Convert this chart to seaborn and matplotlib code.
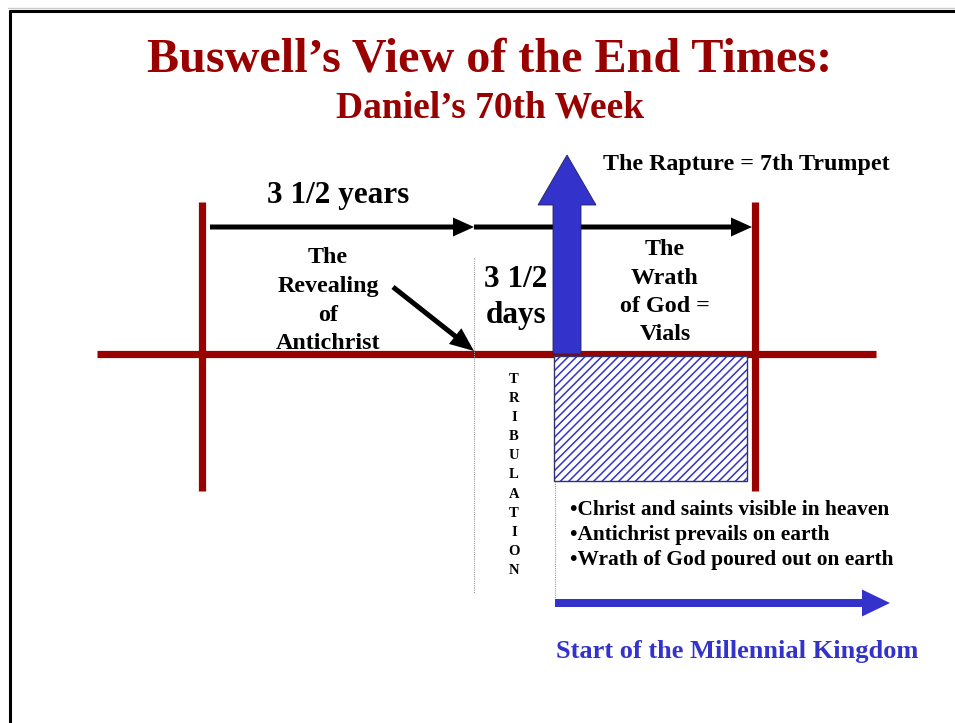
import numpy as np
import pandas as pd
import matplotlib
matplotlib.use('Agg')
import matplotlib.pyplot as plt
import seaborn as sns
from matplotlib.patches import FancyArrow, Rectangle
from matplotlib import font_manager as fm

# diagram content (pixel coordinates of the slide)
title = "Buswell\u2019s View of the End Times:"
subtitle = "Daniel\u2019s 70th Week"
timeline_y = 354
week_start, week_mid, rapture_x, week_end = 202, 474, 554, 755
half_label = "3 1/2 years"
days_label = ["3 1/2", "days"]
reveal_label = ["The", "Revealing", "of", "Antichrist"]
wrath_label = ["The", "Wrath", "of God =", "Vials"]
rapture_label = "The Rapture = 7th Trumpet"
bullets = ["\u2022Christ and saints visible in heaven",
           "\u2022Antichrist prevails on earth",
           "\u2022Wrath of God poured out on earth"]
tribulation = list("TRIBULATION")
kingdom_label = "Start of the Millennial Kingdom"

RED = "#990000"
BLUE = "#3333CC"

sns.set_theme(style="white")
plt.rcParams['font.family'] = 'Liberation Serif'
plt.rcParams['hatch.linewidth'] = 1.1

bold_path = fm.findfont(fm.FontProperties(family='Liberation Serif', weight='bold'))


def bf(size):
    return fm.FontProperties(fname=bold_path, size=size)


fig = plt.figure(figsize=(9.55, 7.23), dpi=100)
ax = fig.add_axes([0, 0, 1, 1])

# red timeline
segs = pd.DataFrame({
    "x": [97, 876, week_start, week_start, week_end, week_end],
    "y": [timeline_y, timeline_y, 202, 491, 202, 491],
    "seg": [0, 0, 1, 1, 2, 2],
})
sns.lineplot(data=segs, x="x", y="y", units="seg", estimator=None, sort=False,
             color=RED, lw=5.2, solid_capstyle='butt', ax=ax, legend=False)
ax.set_xlim(0, 955)
ax.set_ylim(723, 0)
ax.axis('off')

# slide frame
ax.plot([8, 955], [8, 8], color="#cccccc", lw=1)
ax.plot([9, 955], [10.5, 10.5], color="black", lw=2.2, solid_capstyle='butt')
ax.plot([9.5, 9.5], [10, 723], color="black", lw=2.2, solid_capstyle='butt')

# dotted guides
ax.plot([week_mid, week_mid], [258, 593], color="#999999", lw=0.8, ls=(0, (1, 1)))
ax.plot([rapture_x + 1, rapture_x + 1], [481, 598], color="#999999", lw=0.8, ls=(0, (1, 1)))

# hatched wrath box
ax.add_patch(Rectangle((rapture_x, 356), 747 - rapture_x, 125, facecolor="white",
                       edgecolor=BLUE, hatch="////", lw=0, zorder=3))
ax.add_patch(Rectangle((rapture_x, 356), 747 - rapture_x, 125, fill=False,
                       edgecolor="#333366", lw=1, zorder=4))

# black half-week arrows
for x0, x1 in [(210, week_mid), (week_mid, 752)]:
    ax.add_patch(FancyArrow(x0, 227, x1 - x0, 0, width=5, head_width=19,
                            head_length=21, length_includes_head=True,
                            color="black", lw=0, zorder=3))
# revealing arrow
ax.add_patch(FancyArrow(393, 287, 474 - 393, 351 - 287, width=5, head_width=20,
                        head_length=24, length_includes_head=True,
                        color="black", lw=0, zorder=3))

# rapture arrow
ax.add_patch(FancyArrow(567, 354, 0, 155 - 354, width=28, head_width=58,
                        head_length=50, length_includes_head=True,
                        facecolor=BLUE, edgecolor="#222255", lw=0.6, zorder=5))

# kingdom arrow
ax.add_patch(FancyArrow(555, 603, 890 - 555, 0, width=8, head_width=27,
                        head_length=28, length_includes_head=True,
                        color=BLUE, lw=0, zorder=3))

c = dict(ha='center', va='baseline')
l = dict(ha='left', va='baseline')
ax.text(490, 71, title, color=RED, fontproperties=bf(34.7), **c)
ax.text(490, 117, subtitle, color=RED, fontproperties=bf(27), **c)
ax.text(338, 203, half_label, color="black", fontproperties=bf(22.5), **c)
for i, s in enumerate(reveal_label):
    ax.text(328, 263 + 28.8 * i, s, color="black", fontproperties=bf(17.3), **c)
for i, s in enumerate(days_label):
    ax.text(516, 287 + 36 * i, s, color="black", fontproperties=bf(22.5), **c)
for i, s in enumerate(wrath_label):
    ax.text(665, 255 + 28.5 * i, s, color="black", fontproperties=bf(17.3), **c)
ax.text(603, 170, rapture_label, color="black", fontproperties=bf(17.3), **l)
for i, s in enumerate(bullets):
    ax.text(570, 515 + 25 * i, s, color="black", fontproperties=bf(15.4), **l)
for i, s in enumerate(tribulation):
    ax.text(514, 383 + 19.1 * i, s, color="black", fontproperties=bf(10.5), **c)
ax.text(556, 658, kingdom_label, color=BLUE, fontproperties=bf(19), **l)

fig.savefig("out.png", dpi=100)
